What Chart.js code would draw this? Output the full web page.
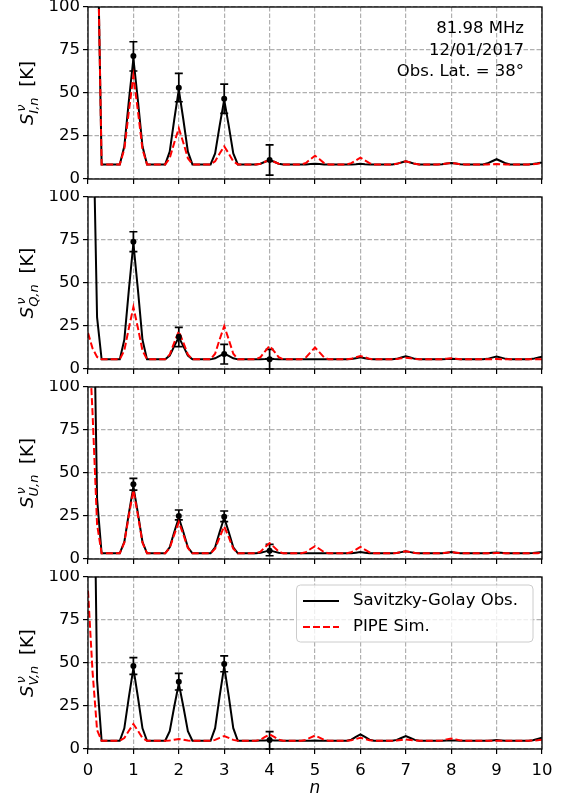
<!DOCTYPE html>
<html>
<head>
<meta charset="utf-8">
<script src="https://cdn.jsdelivr.net/npm/chart.js@4.4.1/dist/chart.umd.min.js"></script>
<style>
  body { margin: 0; background: #fff; }
  #wrap { position: relative; width: 564px; height: 800px; }
  canvas { position: absolute; left: 0; }
</style>
</head>
<body>
<div id="wrap">
  <canvas id="pI" width="564" height="190" style="top:0px"></canvas>
  <canvas id="pQ" width="564" height="190" style="top:190px"></canvas>
  <canvas id="pU" width="564" height="190" style="top:380px"></canvas>
  <canvas id="pV" width="564" height="230" style="top:570px"></canvas>
</div>
<script>
// harmonic index n (samples around each integer, baseline in between)
const nGrid = [0, 0.1, 0.2, 0.3,
  0.7, 0.8, 0.9, 1, 1.1, 1.2, 1.3,
  1.7, 1.8, 1.9, 2, 2.1, 2.2, 2.3,
  2.7, 2.8, 2.9, 3, 3.1, 3.2, 3.3,
  3.7, 3.8, 3.9, 4, 4.1, 4.2, 4.3,
  4.7, 4.8, 4.9, 5, 5.1, 5.2, 5.3,
  5.7, 5.8, 5.9, 6, 6.1, 6.2, 6.3,
  6.7, 6.8, 6.9, 7, 7.1, 7.2, 7.3,
  7.7, 7.8, 7.9, 8, 8.1, 8.2, 8.3,
  8.7, 8.8, 8.9, 9, 9.1, 9.2, 9.3,
  9.7, 9.8, 9.9, 10];

// Stokes I
const iObs = [1000, 600, 160, 8.5,
  8.5, 19, 45.4, 70, 45.4, 19, 8.5,
  8.5, 15.9, 34.6, 52, 34.6, 15.9, 8.5,
  8.5, 14.9, 31, 46, 31, 14.9, 8.5,
  8.5, 8.9, 10, 11, 10, 8.9, 8.5,
  8.5, 8.5, 8.7, 8.9, 8.7, 8.5, 8.5,
  8.5, 8.5, 8.6, 8.8, 8.6, 8.5, 8.5,
  8.5, 8.8, 9.6, 10.3, 9.6, 8.8, 8.5,
  8.5, 8.6, 9, 9.3, 9, 8.6, 8.5,
  8.5, 9.1, 10.3, 11.5, 10.3, 9.1, 8.5,
  8.5, 8.7, 9.1, 9.6];
const iSim = [1000, 600, 160, 8.5,
  8.5, 17.3, 39.4, 60, 39.4, 17.3, 8.5,
  8.5, 12.1, 21.1, 29.5, 21.1, 12.1, 8.5,
  8.5, 10.3, 14.8, 19, 14.8, 10.3, 8.5,
  8.5, 8.9, 10, 11, 10, 8.9, 8.5,
  8.5, 9.3, 11.5, 13.5, 11.5, 9.3, 8.5,
  8.5, 9.2, 10.8, 12.4, 10.8, 9.2, 8.5,
  8.5, 8.8, 9.6, 10.3, 9.6, 8.8, 8.5,
  8.5, 8.6, 9, 9.3, 9, 8.6, 8.5,
  8.5, 8.5, 8.6, 8.7, 8.6, 8.5, 8.5,
  8.5, 8.6, 8.9, 9.3];

// Stokes Q
const qObs = [1000, 165, 30, 5.6,
  5.6, 17, 46, 73, 46, 17, 5.6,
  5.6, 7.8, 13.3, 18.5, 13.3, 7.8, 5.6,
  5.6, 6.2, 7.6, 9, 7.6, 6.2, 5.6,
  5.6, 5.7, 5.8, 6, 5.8, 5.7, 5.6,
  5.6, 5.6, 5.6, 5.7, 5.6, 5.6, 5.6,
  5.6, 5.8, 6.3, 6.8, 6.3, 5.8, 5.6,
  5.6, 5.9, 6.7, 7.4, 6.7, 5.9, 5.6,
  5.6, 5.7, 5.8, 6, 5.8, 5.7, 5.6,
  5.6, 5.9, 6.6, 7.2, 6.6, 5.9, 5.6,
  5.6, 5.9, 6.5, 7.2];
const qSim = [21, 12, 7, 5.6,
  5.6, 10.8, 23.8, 36, 23.8, 10.8, 5.6,
  5.6, 8.4, 15.4, 22, 15.4, 8.4, 5.6,
  5.6, 8.9, 17.2, 25, 17.2, 8.9, 5.6,
  5.6, 6.9, 10.3, 13.4, 10.3, 6.9, 5.6,
  5.6, 6.8, 9.7, 12.5, 9.7, 6.8, 5.6,
  5.6, 5.9, 6.8, 7.5, 6.8, 5.9, 5.6,
  5.6, 5.8, 6.2, 6.5, 6.2, 5.8, 5.6,
  5.6, 5.7, 6.0, 6.3, 6.0, 5.7, 5.6,
  5.6, 5.6, 5.7, 5.8, 5.7, 5.6, 5.6,
  5.6, 5.6, 5.6, 5.7];

// Stokes U
const uObs = [1000, 197, 35, 3.3,
  3.3, 9.9, 26.5, 42, 26.5, 9.9, 3.3,
  3.3, 6.8, 15.7, 24, 15.7, 6.8, 3.3,
  3.3, 6.8, 15.7, 24, 15.7, 6.8, 3.3,
  3.3, 3.6, 4.3, 5, 4.3, 3.6, 3.3,
  3.3, 3.3, 3.3, 3.4, 3.3, 3.3, 3.3,
  3.3, 3.4, 3.7, 4, 3.7, 3.4, 3.3,
  3.3, 3.5, 4, 4.5, 4, 3.5, 3.3,
  3.3, 3.4, 3.7, 4, 3.7, 3.4, 3.3,
  3.3, 3.4, 3.6, 3.8, 3.6, 3.4, 3.3,
  3.3, 3.5, 3.8, 4];
const uSim = [140, 85, 20, 3.3,
  3.3, 9.5, 25.3, 40, 25.3, 9.5, 3.3,
  3.3, 6.4, 14.2, 21.5, 14.2, 6.4, 3.3,
  3.3, 6, 12.7, 19, 12.7, 6, 3.3,
  3.3, 4.3, 6.9, 9.3, 6.9, 4.3, 3.3,
  3.3, 4, 5.8, 7.5, 5.8, 4, 3.3,
  3.3, 3.9, 5.4, 7, 5.4, 3.9, 3.3,
  3.3, 3.5, 4, 4.5, 4, 3.5, 3.3,
  3.3, 3.4, 3.7, 4, 3.7, 3.4, 3.3,
  3.3, 3.3, 3.4, 3.5, 3.4, 3.3, 3.3,
  3.3, 3.3, 3.4, 3.5];

// Stokes V
const vObs = [1000, 240, 40, 4.8,
  4.8, 12, 30.1, 47, 30.1, 12, 4.8,
  4.8, 10.4, 24.7, 38, 24.7, 10.4, 4.8,
  4.8, 12.1, 30.7, 48, 30.7, 12.1, 4.8,
  4.8, 4.9, 5, 5.2, 5, 4.9, 4.8,
  4.8, 4.8, 4.8, 4.9, 4.8, 4.8, 4.8,
  4.8, 5.4, 7.1, 8.5, 7.1, 5.4, 4.8,
  4.8, 5.3, 6.4, 7.5, 6.4, 5.3, 4.8,
  4.8, 4.8, 4.9, 5, 4.9, 4.8, 4.8,
  4.8, 4.8, 5, 5.2, 5, 4.8, 4.8,
  4.8, 5.1, 5.8, 6.5];
const vSim = [92, 45, 11, 4.8,
  4.8, 6.4, 10.6, 14.5, 10.6, 6.4, 4.8,
  4.8, 4.9, 5.4, 5.8, 5.4, 4.9, 4.8,
  4.8, 5.3, 6.5, 7.5, 6.5, 5.3, 4.8,
  4.8, 5.4, 7, 8.5, 7, 5.4, 4.8,
  4.8, 5.3, 6.6, 7.8, 6.6, 5.3, 4.8,
  4.8, 5.1, 5.8, 6.5, 5.8, 5.1, 4.8,
  4.8, 4.9, 5.2, 5.5, 5.2, 4.9, 4.8,
  4.8, 5, 5.6, 6.1, 5.6, 5, 4.8,
  4.8, 4.8, 4.8, 4.8, 4.8, 4.8, 4.8,
  4.8, 4.9, 5.1, 5.4];

// observed points with error bars
const errN = [1, 2, 3, 4];
const iDot = [71.5, 53, 46.7, 11], iLo = [62.8, 44.9, 38.2, 2.3], iHi = [79.8, 61.4, 55.2, 19.8];
const qDot = [74, 18.8, 8.7, 5.6], qLo = [68.2, 13, 2.9, 0], qHi = [79.8, 24.2, 14.3, 11.4];
const uDot = [43.4, 25, 24.6, 4.8], uLo = [40.1, 22.7, 21.7, 1.9], uHi = [46.9, 28.5, 27.9, 8.5];
const vDot = [48.3, 39.1, 49.4, 5.2], vLo = [43.4, 34.3, 44.9, 0], vHi = [53.1, 44, 54.1, 10.1];

const infoLines = ['81.98 MHz', '12/01/2017', 'Obs. Lat. = 38°'];
const obsLabel = 'Savitzky-Golay Obs.';
const simLabel = 'PIPE Sim.';

const FONT = '"DejaVu Sans", sans-serif';
Chart.defaults.font.family = FONT;
Chart.defaults.color = '#000';

const panels = [
  { id: 'pI', obs: iObs, sim: iSim, dot: iDot, lo: iLo, hi: iHi, sub: 'I,n' },
  { id: 'pQ', obs: qObs, sim: qSim, dot: qDot, lo: qLo, hi: qHi, sub: 'Q,n' },
  { id: 'pU', obs: uObs, sim: uSim, dot: uDot, lo: uLo, hi: uHi, sub: 'U,n' },
  { id: 'pV', obs: vObs, sim: vSim, dot: vDot, lo: vLo, hi: vHi, sub: 'V,n' }
];

function drawYLabel(ctx, sub, bx, cy) {
  const big = 'italic 18px ' + FONT, small = 'italic 13px ' + FONT, norm = '18px ' + FONT;
  ctx.save();
  ctx.translate(bx, cy);
  ctx.rotate(-Math.PI / 2);
  ctx.fillStyle = '#000';
  ctx.textBaseline = 'alphabetic';
  ctx.font = big; const wS = ctx.measureText('S').width;
  ctx.font = small;
  const wSup = ctx.measureText('ν').width, wSub = ctx.measureText(sub).width;
  ctx.font = norm; const wK = ctx.measureText(' [K]').width;
  const total = wS + 1 + Math.max(wSup, wSub) + 4 + wK;
  let x = -total / 2;
  ctx.font = big; ctx.fillText('S', x, 0); x += wS + 1;
  ctx.font = small;
  ctx.fillText('ν', x + 1, -8.5);
  ctx.fillText(sub, x - 1, 4.5);
  x += Math.max(wSup, wSub) + 4;
  ctx.font = norm; ctx.fillText(' [K]', x, 0);
  ctx.restore();
}

function decor(p, idx) {
  return {
    id: 'decor' + idx,
    beforeDatasetsDraw(chart) {
      // error bars under the dots
      const { ctx, scales: { x, y } } = chart;
      ctx.save();
      ctx.strokeStyle = '#000';
      ctx.lineWidth = 1.7;
      errN.forEach((n, i) => {
        const px = x.getPixelForValue(n);
        const yl = y.getPixelForValue(p.lo[i]), yh = y.getPixelForValue(p.hi[i]);
        ctx.beginPath();
        ctx.moveTo(px, yl); ctx.lineTo(px, yh);
        ctx.moveTo(px - 4, yl); ctx.lineTo(px + 4, yl);
        ctx.moveTo(px - 4, yh); ctx.lineTo(px + 4, yh);
        ctx.stroke();
      });
      ctx.restore();
    },
    afterDraw(chart) {
      const { ctx, chartArea: a } = chart;
      ctx.save();
      ctx.strokeStyle = '#000';
      ctx.lineWidth = 1.3;
      ctx.strokeRect(a.left, a.top, a.right - a.left, a.bottom - a.top);
      ctx.restore();

      drawYLabel(ctx, p.sub, 33, (a.top + a.bottom) / 2);

      if (idx === 0) {
        ctx.save();
        ctx.font = '16.5px ' + FONT;
        ctx.fillStyle = '#000';
        ctx.textAlign = 'right';
        ctx.textBaseline = 'alphabetic';
        infoLines.forEach((t, i) => ctx.fillText(t, 524, 33 + i * 21.5));
        ctx.restore();
      }

      if (idx === 3) {
        // legend
        ctx.save();
        const lx = 296.5, ly = a.top + 8, lw = 236.5, lh = 57;
        ctx.beginPath();
        ctx.roundRect(lx, ly, lw, lh, 4);
        ctx.fillStyle = 'rgba(255,255,255,0.8)';
        ctx.fill();
        ctx.strokeStyle = '#cccccc';
        ctx.lineWidth = 1;
        ctx.stroke();
        const rows = [
          { t: obsLabel, c: '#000', d: [] },
          { t: simLabel, c: '#ff0000', d: [7, 3] }
        ];
        rows.forEach((r, i) => {
          const ry = ly + 16 + i * 26;
          ctx.beginPath();
          ctx.setLineDash(r.d);
          ctx.strokeStyle = r.c;
          ctx.lineWidth = 2;
          ctx.moveTo(303, ry); ctx.lineTo(339, ry);
          ctx.stroke();
          ctx.setLineDash([]);
          ctx.font = '16.5px ' + FONT;
          ctx.fillStyle = '#000';
          ctx.textBaseline = 'middle';
          ctx.fillText(r.t, 353, ry);
        });
        // x axis title
        ctx.font = 'italic 17px ' + FONT;
        ctx.textAlign = 'center';
        ctx.textBaseline = 'alphabetic';
        ctx.fillText('n', (a.left + a.right) / 2, a.bottom + 44);
        ctx.restore();
      }
    }
  };
}

panels.forEach((p, idx) => {
  const last = idx === 3;
  new Chart(document.getElementById(p.id), {
    type: 'line',
    data: {
      datasets: [
        {
          label: 'obs points',
          data: errN.map((n, i) => ({ x: n, y: p.dot[i] })),
          showLine: false,
          pointRadius: 3,
          pointBackgroundColor: '#000',
          pointBorderWidth: 0,
          borderColor: '#000'
        },
        {
          label: simLabel,
          data: nGrid.map((n, i) => ({ x: n, y: p.sim[i] })),
          borderColor: '#ff0000',
          borderWidth: 2,
          borderDash: [7, 3],
          pointRadius: 0,
          tension: 0,
          clip: 0
        },
        {
          label: obsLabel,
          data: nGrid.map((n, i) => ({ x: n, y: p.obs[i] })),
          borderColor: '#000',
          borderWidth: 2,
          pointRadius: 0,
          tension: 0,
          clip: 0
        }
      ]
    },
    options: {
      responsive: false,
      animation: false,
      events: [],
      layout: { padding: { top: 7, right: 22, left: 0, bottom: 0 } },
      plugins: { legend: { display: false }, tooltip: { enabled: false } },
      scales: {
        x: {
          type: 'linear',
          min: 0, max: 10,
          ticks: { stepSize: 1, display: last, font: { size: 16.5 }, padding: 7, maxRotation: 0, autoSkip: false },
          grid: { color: '#b0b0b0', lineWidth: 1.2, tickLength: 5, tickColor: '#000', tickWidth: 1.2, tickBorderDash: [] },
          border: { display: false, dash: [4.5, 2] },
          afterFit: s => { s.height = last ? 51 : 11; s.paddingLeft = 0; s.paddingRight = 0; }
        },
        y: {
          min: 0, max: 100,
          ticks: { stepSize: 25, font: { size: 16.5 }, padding: 3 },
          grid: { color: '#b0b0b0', lineWidth: 1.2, tickLength: 5, tickColor: '#000', tickWidth: 1.2, tickBorderDash: [] },
          border: { display: false, dash: [4.5, 2] },
          afterFit: s => { s.width = 88; s.paddingTop = 0; s.paddingBottom = 0; }
        }
      }
    },
    plugins: [decor(p, idx)]
  });
});
</script>
</body>
</html>
